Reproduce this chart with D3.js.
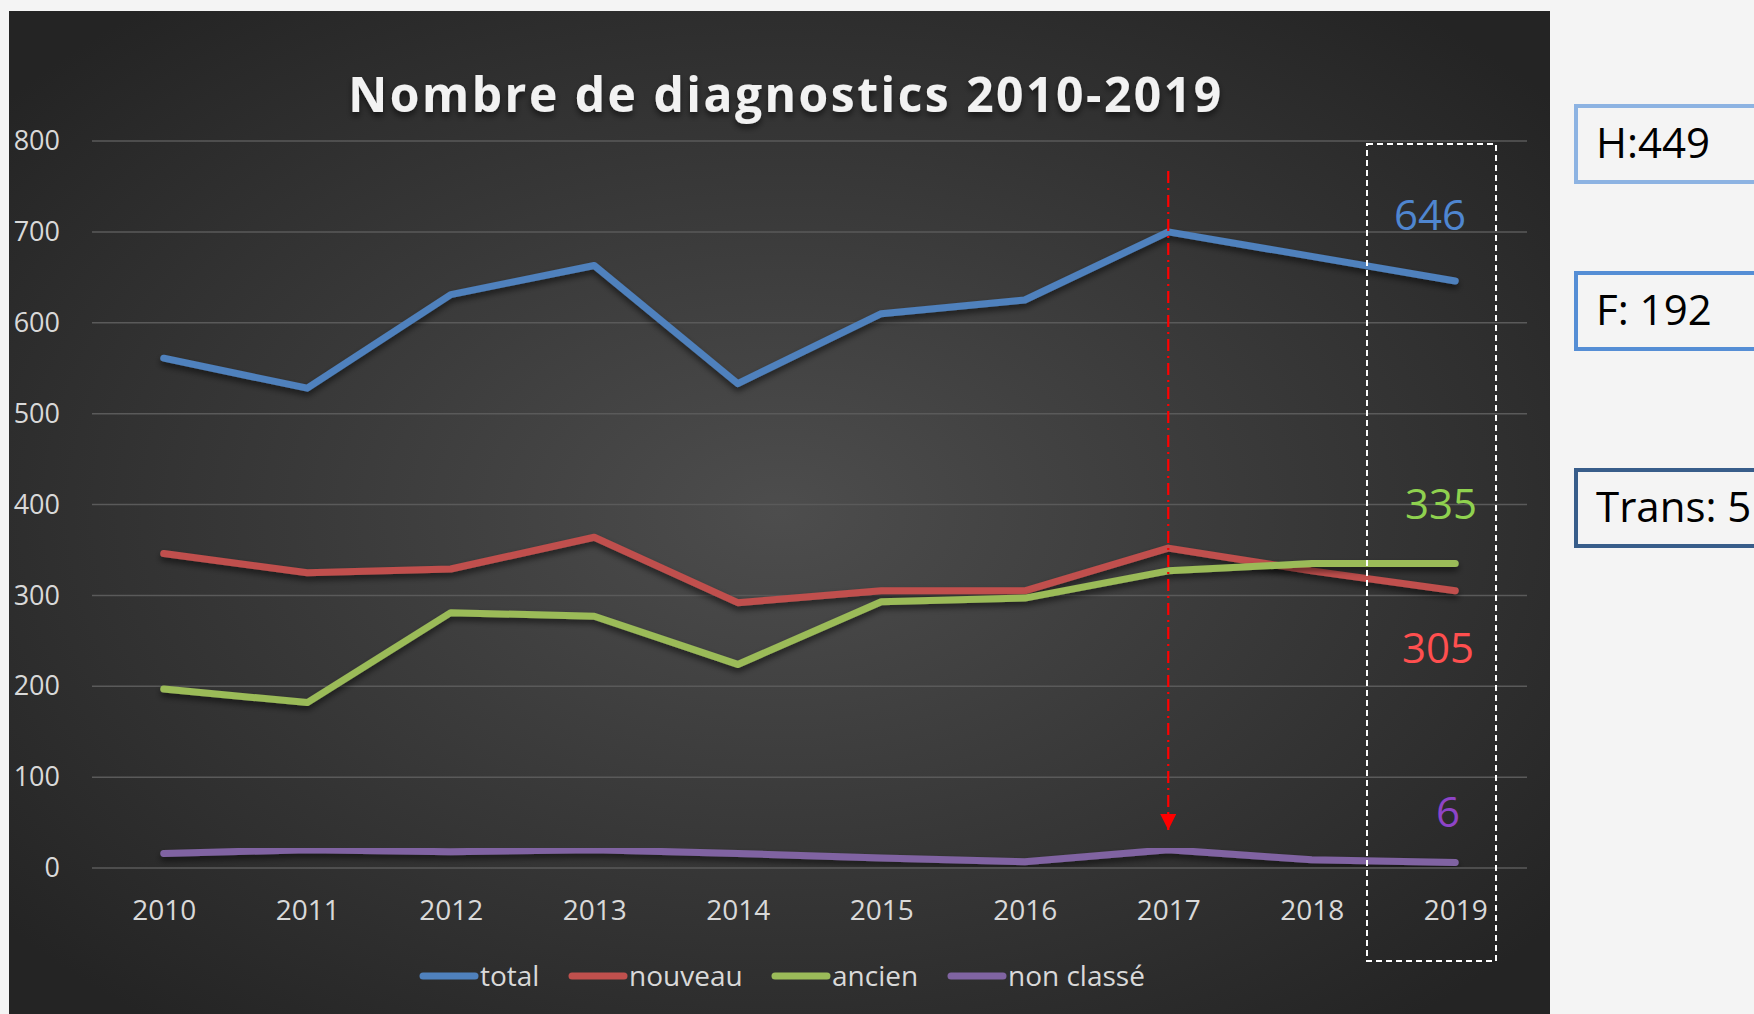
<!DOCTYPE html>
<html>
<head>
<meta charset="utf-8">
<script src="https://cdn.jsdelivr.net/npm/d3@7"></script>
<style>
  html, body { margin: 0; padding: 0; background: #f4f4f4; }
  svg { display: block; }
</style>
</head>
<body>
<div id="chart"></div>
<script>
// data
const years = ['2010', '2011', '2012', '2013', '2014', '2015', '2016', '2017', '2018', '2019'];
const total = [561, 528, 631, 663, 533, 610, 625, 700, 673, 646];
const nouveau = [346, 325, 329, 364, 292, 305, 305, 352, 327, 305];
const ancien = [197, 182, 281, 277, 224, 293, 297, 327, 335, 335];
const nonClasse = [16, 20, 18, 20, 16, 11, 7, 20, 9, 6];
const seriesNames = ['total', 'nouveau', 'ancien', 'non classé'];
const seriesColors = ['#4f81bd', '#c0504d', '#9bbb59', '#8064a2'];
const yTicks = [0, 100, 200, 300, 400, 500, 600, 700, 800];
const endLabels = ['646', '305', '335', '6'];
const endLabelColors = ['#4f86d0', '#ff4f4f', '#8fd14f', '#8e44c8'];
const sideBoxes = ['H:449', 'F: 192', 'Trans: 5'];
const sideBoxColors = ['#8db3e2', '#558ed5', '#385d8a'];

const W = 1754, H = 1014;
const panel = { x: 9, y: 11, w: 1541, h: 1003 };
const plot = { left: 92, right: 1527, top: 141, bottom: 868 };

const svg = d3.select('#chart').append('svg')
    .attr('width', W)
    .attr('height', H);

const defs = svg.append('defs');

// radial gradient for the dark panel
const grad = defs.append('radialGradient')
    .attr('id', 'bg')
    .attr('cx', '0.5').attr('cy', '0.5').attr('r', '0.65');
grad.append('stop').attr('offset', '0%').attr('stop-color', '#4d4d4d');
grad.append('stop').attr('offset', '100%').attr('stop-color', '#242424');

const shadow = defs.append('filter').attr('id', 'shadow')
    .attr('x', '-10%').attr('y', '-10%').attr('width', '120%').attr('height', '140%');
shadow.append('feDropShadow')
    .attr('dx', 0).attr('dy', 4).attr('stdDeviation', 3)
    .attr('flood-color', '#000').attr('flood-opacity', 0.55);

// arrow head, pointing along the line direction
defs.append('marker')
    .attr('id', 'arrow')
    .attr('viewBox', '0 0 10 10')
    .attr('refX', 10).attr('refY', 5)
    .attr('markerWidth', 16).attr('markerHeight', 16)
    .attr('markerUnits', 'userSpaceOnUse')
    .attr('orient', 'auto')
    .append('path')
    .attr('d', 'M0,0 L10,5 L0,10 Z')
    .attr('fill', '#ff0000');

svg.append('rect')
    .attr('x', panel.x).attr('y', panel.y)
    .attr('width', panel.w).attr('height', panel.h)
    .attr('fill', 'url(#bg)');

// title
svg.append('text')
    .attr('x', 786).attr('y', 112)
    .attr('text-anchor', 'middle')
    .attr('font-family', 'Open Sans, sans-serif')
    .attr('font-weight', 'bold')
    .attr('font-size', 48)
    .attr('letter-spacing', 2.5)
    .attr('fill', '#f2f2f2')
    .attr('filter', 'url(#shadow)')
    .text('Nombre de diagnostics 2010-2019');

const x = d3.scalePoint()
    .domain(years)
    .range([plot.left, plot.right])
    .padding(0.5);

const y = d3.scaleLinear()
    .domain([0, 800])
    .range([plot.bottom, plot.top]);

// gridlines
svg.append('g')
    .selectAll('line')
    .data(yTicks)
    .join('line')
    .attr('x1', plot.left).attr('x2', plot.right)
    .attr('y1', d => y(d)).attr('y2', d => y(d))
    .attr('stroke', '#5a5a5a')
    .attr('stroke-width', 1.5);

// y axis labels
const yAxis = svg.append('g')
    .attr('transform', `translate(60,0)`)
    .call(d3.axisLeft(y).tickValues(yTicks).tickSize(0).tickPadding(0));
yAxis.select('.domain').remove();
yAxis.selectAll('text')
    .attr('font-family', 'Open Sans, sans-serif')
    .attr('font-size', 27)
    .attr('fill', '#d9d9d9');

// x axis labels
const xAxis = svg.append('g')
    .attr('transform', `translate(0,${plot.bottom + 32})`)
    .call(d3.axisBottom(x).tickSize(0).tickPadding(0));
xAxis.select('.domain').remove();
xAxis.selectAll('text')
    .attr('font-family', 'Open Sans, sans-serif')
    .attr('font-size', 28)
    .attr('fill', '#d9d9d9');

// lines
const allSeries = [total, nouveau, ancien, nonClasse];
const line = d3.line()
    .x((d, i) => x(years[i]))
    .y(d => y(d));

svg.append('g')
    .selectAll('path')
    .data(allSeries)
    .join('path')
    .attr('d', line)
    .attr('fill', 'none')
    .attr('stroke', (d, i) => seriesColors[i])
    .attr('stroke-width', 7)
    .attr('stroke-linecap', 'round')
    .attr('stroke-linejoin', 'round')
    .attr('filter', 'url(#shadow)');

// red dash-dot arrow at 2017
svg.append('line')
    .attr('x1', x('2017')).attr('x2', x('2017'))
    .attr('y1', 171).attr('y2', 830)
    .attr('stroke', '#ff0000')
    .attr('stroke-width', 2.2)
    .attr('stroke-dasharray', '12,5,2,5')
    .attr('marker-end', 'url(#arrow)');

// dashed white box around 2019
svg.append('rect')
    .attr('x', 1367).attr('y', 144)
    .attr('width', 129).attr('height', 817)
    .attr('fill', 'none')
    .attr('stroke', '#ffffff')
    .attr('stroke-width', 2)
    .attr('stroke-dasharray', '6,4');

// end labels
const endLabelPos = [
    { x: 1430, y: 230 },
    { x: 1438, y: 663 },
    { x: 1441, y: 519 },
    { x: 1448, y: 827 }
];
svg.append('g')
    .selectAll('text')
    .data(endLabels)
    .join('text')
    .attr('x', (d, i) => endLabelPos[i].x)
    .attr('y', (d, i) => endLabelPos[i].y)
    .attr('text-anchor', 'middle')
    .attr('font-family', 'Open Sans, sans-serif')
    .attr('font-size', 42)
    .attr('fill', (d, i) => endLabelColors[i])
    .text(d => d);

// legend
const legendX = [423, 572, 775, 951];
const legend = svg.append('g')
    .selectAll('g')
    .data(seriesNames)
    .join('g')
    .attr('transform', (d, i) => `translate(${legendX[i]},976)`);
legend.append('line')
    .attr('x1', 0).attr('x2', 52)
    .attr('y1', 0).attr('y2', 0)
    .attr('stroke', (d, i) => seriesColors[i])
    .attr('stroke-width', 7)
    .attr('stroke-linecap', 'round');
legend.append('text')
    .attr('x', 57).attr('y', 10)
    .attr('font-family', 'Liberation Sans Narrow, Open Sans, sans-serif')
    .attr('font-size', 28)
    .attr('fill', '#d9d9d9')
    .text(d => d);

// side boxes
const boxY = [106, 273, 470];
const boxes = svg.append('g')
    .selectAll('g')
    .data(sideBoxes)
    .join('g')
    .attr('transform', (d, i) => `translate(1576,${boxY[i]})`);
boxes.append('rect')
    .attr('width', 200).attr('height', 76)
    .attr('fill', '#f4f4f4')
    .attr('stroke', (d, i) => sideBoxColors[i])
    .attr('stroke-width', 4);
boxes.append('text')
    .attr('x', 20).attr('y', 52)
    .attr('font-family', 'Liberation Sans Narrow, Open Sans, sans-serif')
    .attr('font-size', 42)
    .attr('fill', '#000')
    .text(d => d);
</script>
</body>
</html>
